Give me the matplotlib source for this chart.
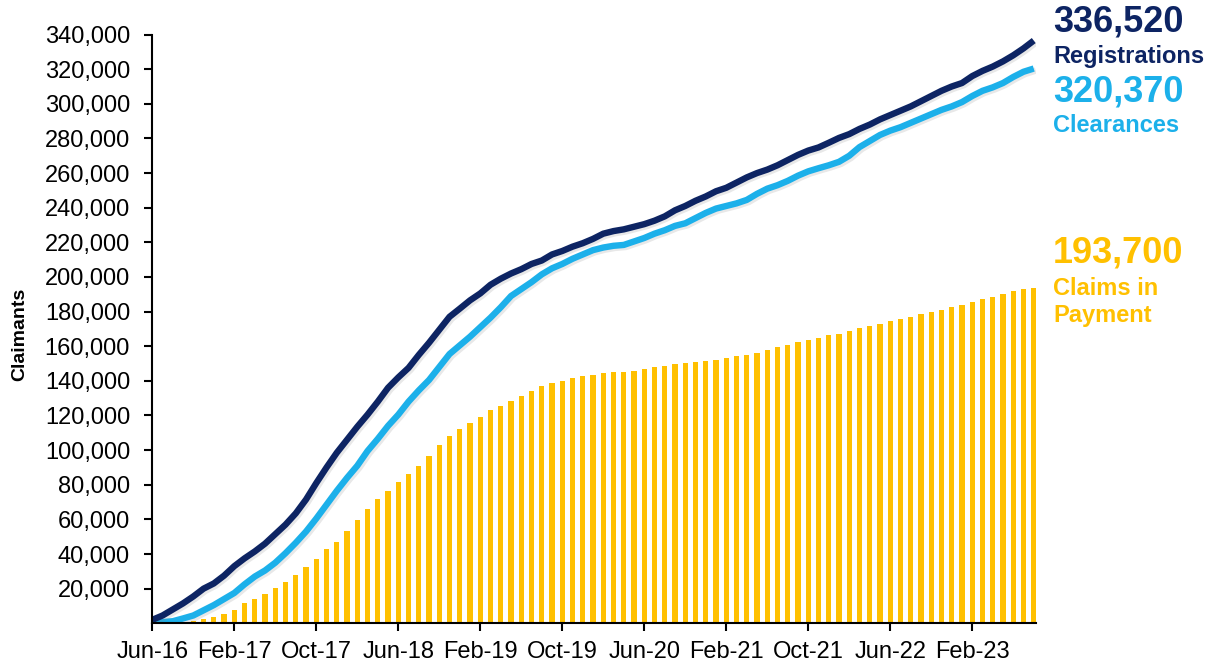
import matplotlib
matplotlib.use("Agg")
import matplotlib.pyplot as plt
import matplotlib.patheffects as pe
from matplotlib.ticker import FuncFormatter, FixedLocator
import pandas as pd

plt.rcParams['font.family'] = ['Liberation Sans', 'DejaVu Sans']

# Monthly axis: Jun-16 .. Aug-23
months = pd.date_range("2016-06-01", periods=87, freq="MS")
month_labels = [d.strftime("%b-%y") for d in months]
tick_labels = ["Jun-16", "Feb-17", "Oct-17", "Jun-18", "Feb-19", "Oct-19",
               "Jun-20", "Feb-21", "Oct-21", "Jun-22", "Feb-23"]

# Values in thousands of claimants
registrations = [2.0, 4.5, 8.0, 11.5, 15.5, 20.0, 23.0, 27.5, 33.0, 37.5,
                 41.5, 46.0, 51.5, 57.0, 63.5, 71.5, 81.0, 90.0, 98.5, 106.0,
                 113.5, 120.5, 128.0, 136.0, 142.0, 147.5, 155.0, 162.0, 169.5, 177.0,
                 181.7, 186.5, 190.5, 195.5, 199.0, 202.0, 204.5, 207.5, 209.5, 213.0,
                 215.0, 217.5, 219.5, 222.0, 225.0, 226.5, 227.5, 229.0, 230.5, 232.5,
                 235.0, 238.5, 241.0, 244.0, 246.5, 249.5, 251.5, 254.5, 257.5, 260.0,
                 262.0, 264.5, 267.5, 270.5, 273.0, 274.8, 277.5, 280.3, 282.5, 285.5,
                 288.0, 291.0, 293.5, 296.0, 298.5, 301.5, 304.5, 307.5, 310.0, 312.0,
                 316.0, 319.0, 321.5, 324.5, 328.0, 332.0, 336.52]

clearances = [1.0, 0.7, 1.2, 2.8, 4.5, 7.5, 10.5, 14.0, 17.5, 22.5,
              27.0, 30.5, 35.0, 40.5, 46.5, 53.0, 60.5, 68.5, 76.5, 84.0,
              91.0, 99.5, 106.5, 114.0, 120.5, 128.0, 134.5, 140.5, 148.0, 155.5,
              160.5, 165.5, 171.0, 176.5, 182.5, 189.0, 193.0, 197.0, 201.5, 205.0,
              207.5, 210.5, 213.0, 215.5, 217.0, 218.0, 218.5, 220.5, 222.5, 225.0,
              227.0, 229.5, 231.0, 234.0, 237.0, 239.5, 241.0, 242.5, 244.5, 248.0,
              251.0, 253.0, 255.5, 258.5, 261.0, 262.8, 264.5, 266.5, 270.0, 275.0,
              278.5, 282.0, 284.5, 286.5, 289.0, 291.5, 294.0, 296.5, 298.5, 301.0,
              304.5, 307.5, 309.5, 312.0, 315.5, 318.5, 320.37]

claims_in_payment = [0.0, 0.0, 0.0, 0.5, 1.5, 2.7, 3.9, 5.4, 7.7, 11.8,
                     14.0, 16.8, 20.1, 23.6, 28.0, 32.5, 37.1, 43.1, 47.0, 53.4,
                     59.4, 65.8, 71.6, 76.6, 81.6, 86.4, 91.0, 96.7, 103.0, 108.1,
                     112.2, 115.9, 119.3, 123.4, 125.5, 128.4, 131.1, 134.0, 136.8, 138.5,
                     139.7, 141.8, 142.9, 143.5, 144.7, 145.3, 145.3, 145.8, 146.8, 147.8,
                     148.5, 149.7, 150.3, 150.9, 151.5, 152.0, 153.1, 154.2, 155.1, 156.1,
                     157.6, 159.4, 160.9, 162.3, 163.8, 165.0, 166.2, 167.3, 168.9, 170.6,
                     171.4, 172.9, 174.5, 175.6, 176.8, 178.5, 179.7, 181.2, 182.6, 183.8,
                     185.3, 187.0, 188.7, 190.2, 192.0, 193.0, 193.7]

end_values = {"Registrations": "336,520", "Clearances": "320,370", "Claims in\nPayment": "193,700"}

NAVY = "#0D2463"
LIGHT = "#1CB0EA"
GOLD = "#FFC000"

x = list(range(len(months)))
reg = [v * 1000 for v in registrations]
clr = [v * 1000 for v in clearances]
cip = [v * 1000 for v in claims_in_payment]

fig = plt.figure(figsize=(12.05, 6.63), dpi=100)
ax = fig.add_axes([0.1264, 0.0599, 0.7336, 0.888])

ax.bar(x, cip, width=0.52, color=GOLD, zorder=1)
shadow = [pe.SimpleLineShadow(offset=(1.5, -1.5), alpha=0.18, shadow_color="gray"), pe.Normal()]
ax.plot(x, clr, color=LIGHT, lw=4.6, solid_capstyle="butt", zorder=3, path_effects=shadow)
ax.plot(x, reg, color=NAVY, lw=4.6, solid_capstyle="butt", zorder=4, path_effects=shadow)

ax.set_xlim(0, 86.25)
ax.set_ylim(0, 340000)

ax.yaxis.set_major_locator(FixedLocator(list(range(20000, 340001, 20000))))
ax.yaxis.set_major_formatter(FuncFormatter(lambda v, p: f"{int(v):,}"))
tick_pos = [month_labels.index(t) for t in tick_labels]
ax.set_xticks(tick_pos)
ax.set_xticklabels(tick_labels)

for s in ["top", "right"]:
    ax.spines[s].set_visible(False)
for s in ["left", "bottom"]:
    ax.spines[s].set_linewidth(1.5)
    ax.spines[s].set_color("black")
    ax.spines[s].set_zorder(5)

ax.tick_params(axis="both", direction="out", length=6, width=1.5, labelsize=17, colors="black")
ax.tick_params(axis="x", pad=7)
ax.tick_params(axis="y", pad=10)

ax.set_ylabel("Claimants", fontsize=14, fontweight="bold")
ax.yaxis.set_label_coords(-0.150, 0.49)
ax.yaxis.label.set_va("center")

# Right-hand annotations
tx = 1053 / 1205
def ftxt(ypix, s, color, size, ls=1.05):
    fig.text(tx, 1 - ypix / 663, s, color=color, fontsize=size, fontweight="bold",
             ha="left", va="center", linespacing=ls)

ftxt(22, end_values["Registrations"], NAVY, 26)
ftxt(57, "Registrations", NAVY, 17)
ftxt(92, end_values["Clearances"], LIGHT, 26)
ftxt(126, "Clearances", LIGHT, 17)
ftxt(253, end_values["Claims in\nPayment"], GOLD, 26)
ftxt(302, "Claims in\nPayment", GOLD, 17, ls=1.25)

fig.savefig("out.png", dpi=100)
